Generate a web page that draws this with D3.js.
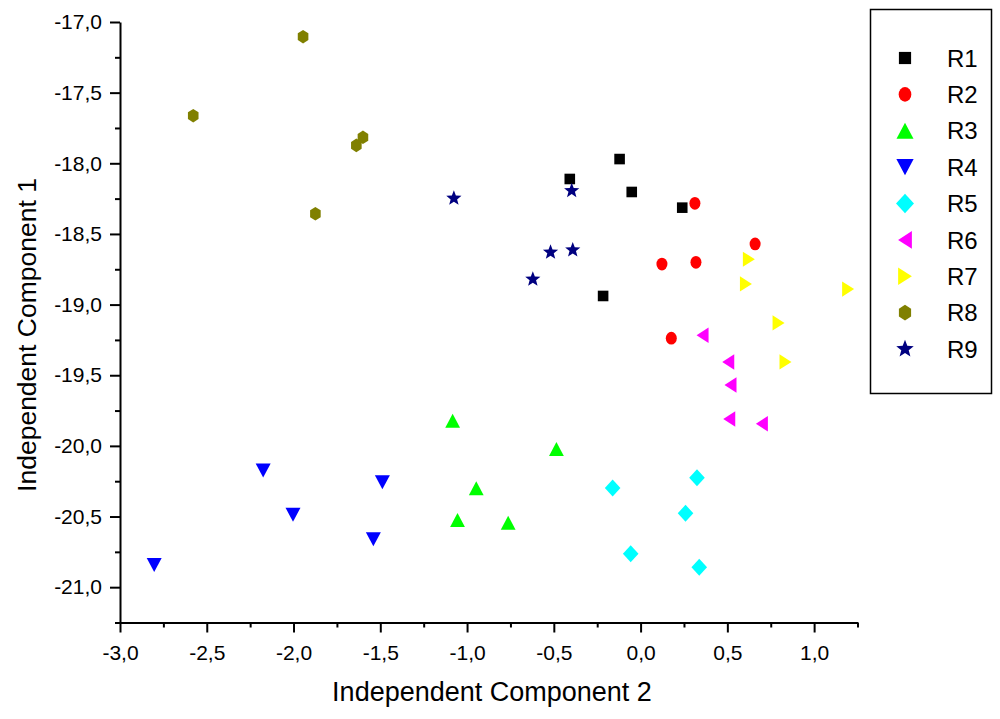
<!DOCTYPE html>
<html>
<head>
<meta charset="utf-8">
<script src="https://cdn.jsdelivr.net/npm/d3@7"></script>
<style>
  body { margin: 0; background: #fff; }
  svg { font-family: "Liberation Sans", Arial, sans-serif; }
  .axis path, .axis line { stroke: #000; stroke-width: 2; }
  .axis text { font-size: 21px; fill: #000; }
</style>
</head>
<body>
<svg class="chart"></svg>
<script>
// series
var seriesNames = ["R1", "R2", "R3", "R4", "R5", "R6", "R7", "R8", "R9"];
var r1x = [-0.121, -0.408, -0.051, 0.240, -0.216];
var r1y = [-17.970, -18.111, -18.203, -18.314, -18.939];
var r2x = [0.313, 0.660, 0.123, 0.319, 0.177];
var r2y = [-18.283, -18.571, -18.713, -18.701, -19.238];
var r3x = [-1.083, -0.485, -0.947, -1.055, -0.763];
var r3y = [-19.822, -20.022, -20.300, -20.524, -20.544];
var r4x = [-2.175, -1.488, -2.003, -1.540, -2.803];
var r4y = [-20.175, -20.258, -20.487, -20.661, -20.843];
var r5x = [-0.161, 0.325, 0.259, -0.057, 0.338];
var r5y = [-20.298, -20.225, -20.477, -20.763, -20.859];
var r6x = [0.357, 0.505, 0.518, 0.511, 0.699];
var r6y = [-19.217, -19.406, -19.569, -19.810, -19.843];
var r7x = [0.624, 0.607, 1.196, 0.795, 0.835];
var r7y = [-18.679, -18.854, -18.890, -19.130, -19.406];
var r8x = [-1.945, -2.578, -1.600, -1.638, -1.874];
var r8y = [-17.104, -17.663, -17.816, -17.873, -18.357];
var r9x = [-1.076, -0.397, -0.519, -0.391, -0.621];
var r9y = [-18.248, -18.194, -18.630, -18.614, -18.821];

var xMajorTicks = [-3.0, -2.5, -2.0, -1.5, -1.0, -0.5, 0.0, 0.5, 1.0];
var yMajorTicks = [-17.0, -17.5, -18.0, -18.5, -19.0, -19.5, -20.0, -20.5, -21.0];
var xMinorTicks = [-2.75, -2.25, -1.75, -1.25, -0.75, -0.25, 0.25, 0.75, 1.25];
var yMinorTicks = [-17.25, -17.75, -18.25, -18.75, -19.25, -19.75, -20.25, -20.75, -21.25];

var allX = [r1x, r2x, r3x, r4x, r5x, r6x, r7x, r8x, r9x];
var allY = [r1y, r2y, r3y, r4y, r5y, r6y, r7y, r8y, r9y];
var colors = ["#000000", "#ff0000", "#00ff00", "#0000ff", "#00ffff", "#ff00ff", "#ffff00", "#808000", "#000080"];
var shapes = ["square", "circle", "up", "down", "diamond", "left", "right", "hexagon", "star"];

var width = 1000, height = 719;
var margin = {top: 22, left: 120};
var plotW = 737.5, plotH = 600.5;

var svg = d3.select(".chart").attr("width", width).attr("height", height);

var x = d3.scaleLinear().domain([-3.0, 1.25]).range([margin.left, margin.left + plotW]);
var y = d3.scaleLinear().domain([-21.25, -17.0]).range([margin.top + plotH, margin.top]);

function fmt(d) { return d3.format(".1f")(d).replace(".", ",").replace("−", "-"); }

// minor ticks first, then major with labels
svg.append("g").attr("class", "axis")
  .attr("transform", "translate(0," + (margin.top + plotH) + ")")
  .call(d3.axisBottom(x).tickValues(xMinorTicks).tickSize(5).tickFormat(""))
  .select(".domain").remove();
svg.append("g").attr("class", "axis")
  .attr("transform", "translate(" + margin.left + ",0)")
  .call(d3.axisLeft(y).tickValues(yMinorTicks).tickSize(5).tickFormat(""))
  .select(".domain").remove();

svg.append("g").attr("class", "axis")
  .attr("transform", "translate(0," + (margin.top + plotH) + ")")
  .call(d3.axisBottom(x).tickValues(xMajorTicks).tickSize(10).tickSizeOuter(0).tickPadding(13).tickFormat(fmt));
svg.append("g").attr("class", "axis")
  .attr("transform", "translate(" + margin.left + ",0)")
  .call(d3.axisLeft(y).tickValues(yMajorTicks).tickSize(10).tickSizeOuter(0).tickPadding(8).tickFormat(fmt));

// axis titles
svg.append("text")
  .attr("x", 492).attr("y", 701)
  .attr("text-anchor", "middle")
  .style("font-size", "27px")
  .text("Independent Component 2");
svg.append("text")
  .attr("transform", "translate(36,335) rotate(-90)")
  .attr("text-anchor", "middle")
  .style("font-size", "26.5px")
  .text("Independent Component 1");

// marker shapes, sizes in px around the center
function shapePath(s) {
  var p = d3.path();
  if (s == "square") { p.rect(-5.3, -5.3, 10.6, 10.6); }
  else if (s == "up") { p.moveTo(0, -7); p.lineTo(7.4, 7); p.lineTo(-7.4, 7); p.closePath(); }
  else if (s == "down") { p.moveTo(0, 7); p.lineTo(7.5, -7); p.lineTo(-7.5, -7); p.closePath(); }
  else if (s == "diamond") { p.moveTo(0, -8.5); p.lineTo(7.8, 0); p.lineTo(0, 8.5); p.lineTo(-7.8, 0); p.closePath(); }
  else if (s == "left") { p.moveTo(-6, 0); p.lineTo(6, -7.8); p.lineTo(6, 7.8); p.closePath(); }
  else if (s == "right") { p.moveTo(6, 0); p.lineTo(-6, -7.6); p.lineTo(-6, 7.6); p.closePath(); }
  else if (s == "hexagon") {
    for (var k = 0; k < 6; k++) {
      var a = Math.PI / 3 * k - Math.PI / 2;
      var px = 6.8 * Math.cos(a) * 0.9, py = 6.8 * Math.sin(a);
      if (k == 0) p.moveTo(px, py); else p.lineTo(px, py);
    }
    p.closePath();
  }
  else if (s == "star") {
    for (var k = 0; k < 10; k++) {
      var a = Math.PI / 5 * k - Math.PI / 2;
      var r = (k % 2 == 0) ? 8 : 3.4;
      if (k == 0) p.moveTo(r * Math.cos(a), r * Math.sin(a)); else p.lineTo(r * Math.cos(a), r * Math.sin(a));
    }
    p.closePath();
  }
  return p.toString();
}

function drawMark(g, s, color) {
  if (s == "circle") {
    g.append("ellipse").attr("rx", 5.5).attr("ry", 6.4).attr("fill", color);
  } else {
    g.append("path").attr("d", shapePath(s)).attr("fill", color);
  }
}

// points
seriesNames.forEach(function(name, i) {
  var pts = allX[i].map(function(v, j) { return [v, allY[i][j]]; });
  svg.append("g").selectAll("g")
    .data(pts)
    .enter().append("g")
      .attr("transform", function(d) { return "translate(" + x(d[0]) + "," + y(d[1]) + ")"; })
      .each(function() { drawMark(d3.select(this), shapes[i], colors[i]); });
});

// legend
var legend = svg.append("g");
legend.append("rect")
  .attr("x", 870.5).attr("y", 9.5).attr("width", 121).attr("height", 384)
  .attr("fill", "none").attr("stroke", "#000").attr("stroke-width", 1.5);

var ly = d3.scalePoint().domain(seriesNames).range([58, 349]);
var item = legend.selectAll(".item")
  .data(seriesNames)
  .enter().append("g")
    .attr("class", "item")
    .attr("transform", function(d) { return "translate(0," + ly(d) + ")"; });
item.each(function(d, i) {
  var g = d3.select(this).append("g").attr("transform", "translate(905,0) scale(1.15)");
  drawMark(g, shapes[i], colors[i]);
});
item.append("text")
  .attr("x", 947).attr("dy", "0.36em")
  .style("font-size", "24px")
  .text(function(d) { return d; });
</script>
</body>
</html>
